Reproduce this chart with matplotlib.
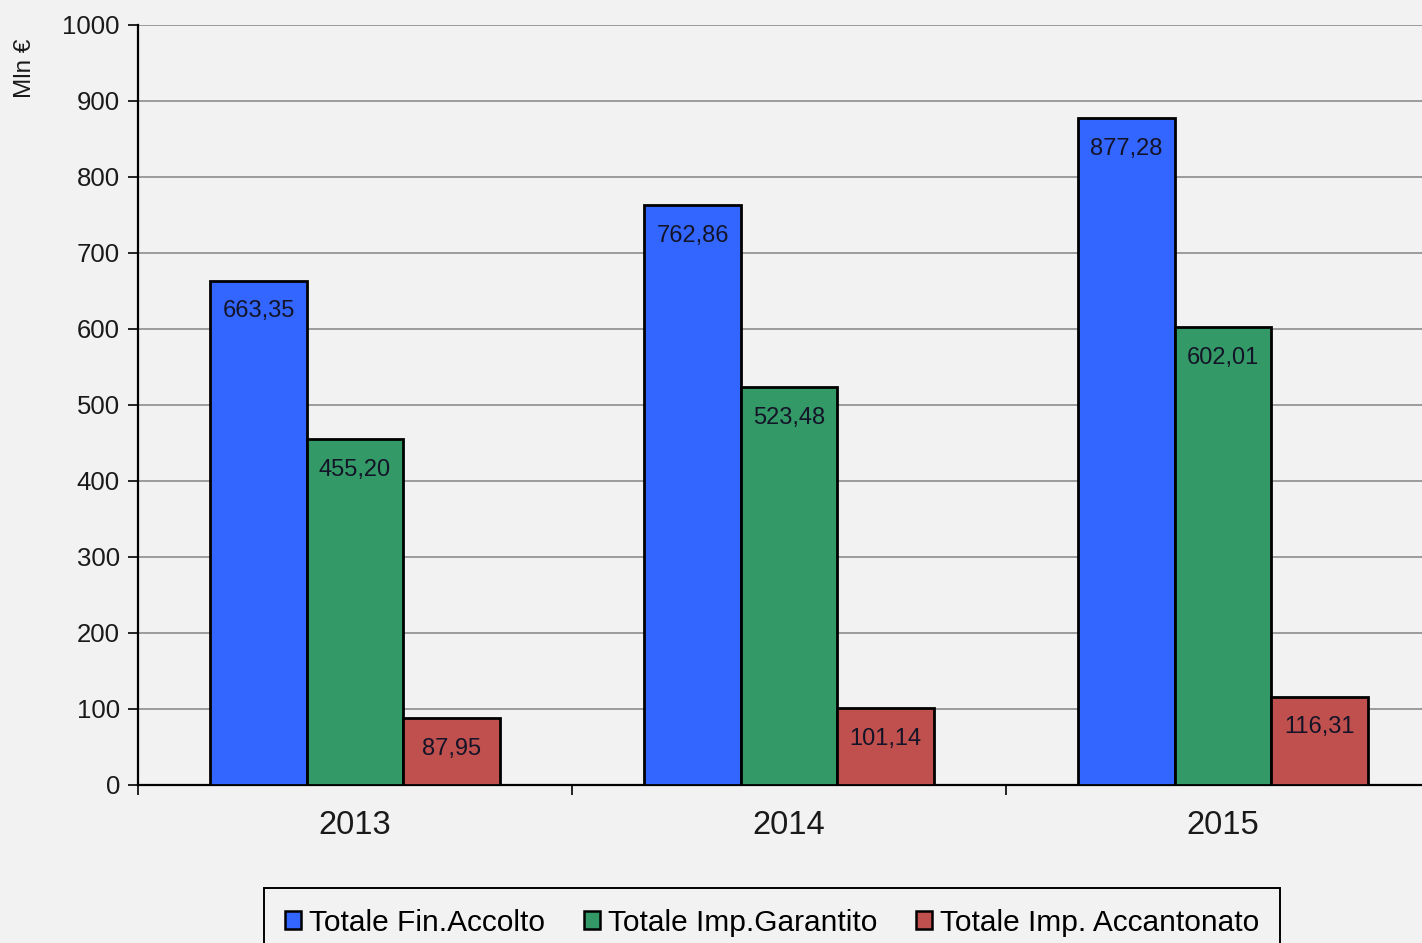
import matplotlib
matplotlib.use("Agg")
import matplotlib.pyplot as plt
import numpy as np

years = ["2013", "2014", "2015"]
series_names = ["Totale Fin.Accolto", "Totale Imp.Garantito", "Totale Imp. Accantonato"]
fin_accolto = [663.35, 762.86, 877.28]
imp_garantito = [455.20, 523.48, 602.01]
imp_accantonato = [87.95, 101.14, 116.31]
series_values = [fin_accolto, imp_garantito, imp_accantonato]
colors = ["#3366FF", "#339966", "#C0504D"]
yticks = [0, 100, 200, 300, 400, 500, 600, 700, 800, 900, 1000]

plt.rcParams['font.family'] = ['Liberation Sans', 'DejaVu Sans']

W, H = 1422, 943
fig = plt.figure(figsize=(W / 100, H / 100), dpi=100)
fig.patch.set_facecolor("#f2f2f2")

left = 138 / W
right = (138 + 3 * 434) / W
bottom = 1 - 785 / H
top = 1 - 25 / H
ax = fig.add_axes([left, bottom, right - left, top - bottom])
ax.set_facecolor("none")

x = np.arange(len(years))
bw = 96.5 / 434
for i, (name, vals, col) in enumerate(zip(series_names, series_values, colors)):
    pos = x + (i - 1) * bw
    bars = ax.bar(pos, vals, width=bw, color=col, edgecolor="black", linewidth=2.0,
                  label=name, zorder=3)
    for b, v in zip(bars, vals):
        ax.annotate(f"{v:.2f}".replace(".", ","),
                    xy=(b.get_x() + b.get_width() / 2, v),
                    xytext=(0, -22), textcoords="offset points",
                    ha="center", va="center", fontsize=17, color="#141428", zorder=4)

ax.set_xlim(-0.5, 2.5)
ax.set_ylim(0, 1000)
ax.set_yticks(yticks)
ax.set_yticklabels([str(t) for t in yticks], fontsize=18.5, color="#1a1a1a")
ax.yaxis.grid(True, color="#8c8c8c", linewidth=1.2, zorder=0)
ax.set_axisbelow(True)

ax.set_xticks(x)
ax.set_xticklabels(years, fontsize=23.5, color="#1a1a1a")
ax.tick_params(axis="x", length=0, pad=18)
ax.set_xticks([-0.5, 0.5, 1.5], minor=True)
ax.tick_params(axis="x", which="minor", length=7, width=1.2, direction="out", color="black")
ax.tick_params(axis="y", length=7, width=1.2, direction="out", color="black", pad=6)

for s in ["top", "right"]:
    ax.spines[s].set_visible(False)
ax.spines["left"].set_linewidth(1.6)
ax.spines["bottom"].set_linewidth(1.6)

fig.text(25 / W, 1 - 68 / H, "Mln €", rotation=90, ha="center", va="center",
         fontsize=17.5, color="#1a1a1a")

leg = fig.legend(loc="upper center", bbox_to_anchor=(772 / W, 1 - 888 / H), ncol=3,
                 fontsize=21.5, frameon=True, fancybox=False, edgecolor="black",
                 facecolor="#f2f2f2", framealpha=1, handlelength=0.55, handleheight=0.55,
                 handletextpad=0.25, columnspacing=1.3, borderpad=0.7, borderaxespad=0)
leg.get_frame().set_linewidth(1.4)
for h in leg.legend_handles:
    h.set_linewidth(1.8)

fig.savefig("out.png", dpi=100, facecolor=fig.get_facecolor())
